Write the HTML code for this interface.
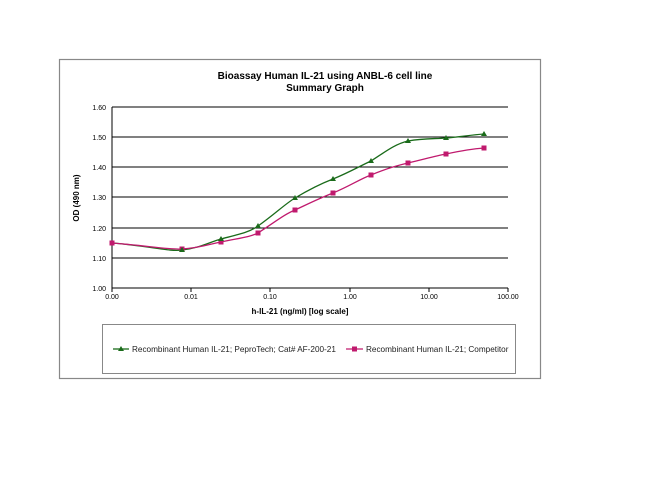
<!DOCTYPE html>
<html><head><style>body{margin:0;background:#fff}svg{display:block}</style></head><body>
<svg width="650" height="502" viewBox="0 0 650 502" xmlns="http://www.w3.org/2000/svg" font-family="Liberation Sans, Arial, sans-serif">
<rect x="59.5" y="59.5" width="481" height="319" fill="#fff" stroke="#888" stroke-width="1.2"/>
<text x="325" y="79" font-size="10" font-weight="bold" text-anchor="middle">Bioassay Human IL-21 using ANBL-6 cell line</text>
<text x="325" y="91" font-size="10" font-weight="bold" text-anchor="middle">Summary Graph</text>
<g stroke="#000" stroke-width="1">
<line x1="112" y1="107" x2="508" y2="107"/><line x1="112" y1="137" x2="508" y2="137"/><line x1="112" y1="167" x2="508" y2="167"/><line x1="112" y1="197" x2="508" y2="197"/><line x1="112" y1="228" x2="508" y2="228"/><line x1="112" y1="258" x2="508" y2="258"/><line x1="112" y1="288" x2="508" y2="288"/>
<line x1="112" y1="107" x2="112" y2="288"/>
<line x1="191" y1="288" x2="191" y2="292"/><line x1="270" y1="288" x2="270" y2="292"/><line x1="350" y1="288" x2="350" y2="292"/><line x1="429" y1="288" x2="429" y2="292"/><line x1="508" y1="288" x2="508" y2="292"/><line x1="112" y1="288" x2="112" y2="292"/>
</g>
<g font-size="7" text-anchor="end">
<text x="106" y="110">1.60</text><text x="106" y="140">1.50</text><text x="106" y="170">1.40</text><text x="106" y="200">1.30</text><text x="106" y="231">1.20</text><text x="106" y="261">1.10</text><text x="106" y="291">1.00</text>
</g>
<g font-size="7" text-anchor="middle">
<text x="112" y="299">0.00</text><text x="191" y="299">0.01</text><text x="270" y="299">0.10</text><text x="350" y="299">1.00</text><text x="429" y="299">10.00</text><text x="508" y="299">100.00</text>
</g>
<text x="300" y="314" font-size="8" font-weight="bold" text-anchor="middle">h-IL-21 (ng/ml) [log scale]</text>
<text transform="translate(79,198) rotate(-90)" font-size="8" font-weight="bold" text-anchor="middle">OD (490 nm)</text>
<path d="M112,243 C150,246 170,252 182,250 C200,248 210,242 221,239 C240,234 250,232 258,226 C275,214 285,204 295,198 C310,189 320,184 333,179 C350,172 360,166 371,161 C385,152 395,144 408,141 C425,138 435,139 446,138 C460,137 470,135 484,134" fill="none" stroke="#1a6b1a" stroke-width="1.3"/>
<path d="M112,243 C150,246 170,250 182,249 C200,248 210,244 221,242 C240,238 250,237 258,233 C275,222 285,214 295,210 C310,203 320,198 333,193 C350,186 360,179 371,175 C385,169 395,166 408,163 C425,159 435,156 446,154 C460,151 470,149 484,148" fill="none" stroke="#c01a6e" stroke-width="1.3"/>
<g fill="#c01a6e">
<rect x="109.5" y="240.5" width="5" height="5"/><rect x="179.5" y="246.5" width="5" height="5"/><rect x="218.5" y="239.5" width="5" height="5"/><rect x="255.5" y="230.5" width="5" height="5"/><rect x="292.5" y="207.5" width="5" height="5"/><rect x="330.5" y="190.5" width="5" height="5"/><rect x="368.5" y="172.5" width="5" height="5"/><rect x="405.5" y="160.5" width="5" height="5"/><rect x="443.5" y="151.5" width="5" height="5"/><rect x="481.5" y="145.5" width="5" height="5"/>
</g>
<g fill="#1a6b1a">
<path d="M182,247l3,5h-6z"/><path d="M221,236l3,5h-6z"/><path d="M258,223l3,5h-6z"/><path d="M295,195l3,5h-6z"/><path d="M333,176l3,5h-6z"/><path d="M371,158l3,5h-6z"/><path d="M408,138l3,5h-6z"/><path d="M446,135l3,5h-6z"/><path d="M484,131l3,5h-6z"/>
</g>
<rect x="102.5" y="324.5" width="413" height="49" fill="#fff" stroke="#888" stroke-width="1"/>
<line x1="113" y1="349" x2="129" y2="349" stroke="#1a6b1a" stroke-width="1.3"/><path d="M121,346l3,5h-6z" fill="#1a6b1a"/>
<text x="132" y="352" font-size="8.2" fill="#222">Recombinant Human IL-21; PeproTech; Cat# AF-200-21</text>
<line x1="346" y1="349" x2="363" y2="349" stroke="#c01a6e" stroke-width="1.3"/><rect x="352" y="346.5" width="5" height="5" fill="#c01a6e"/>
<text x="366" y="352" font-size="8.2" fill="#222">Recombinant Human IL-21; Competitor</text>
</svg>
</body></html>
